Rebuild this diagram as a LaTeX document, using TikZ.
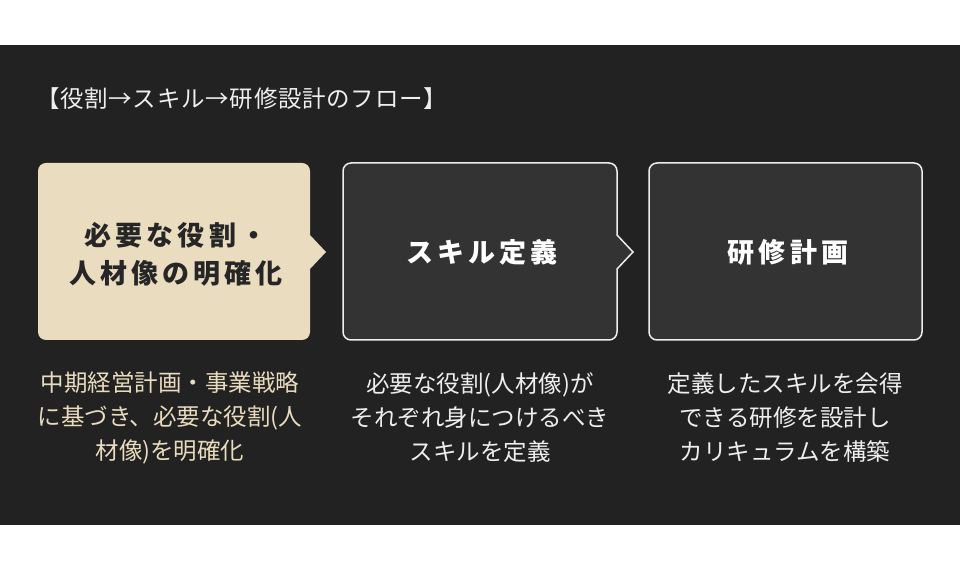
\documentclass[tikz,border=0pt]{standalone}
\usepackage{fontspec}
\newfontfamily\jp{Noto Sans CJK JP}
\newfontfamily\jpsp[LetterSpace=15]{Noto Sans CJK JP}
\newfontfamily\jptitle[LetterSpace=3]{Noto Sans CJK JP}
\definecolor{bandbg}{HTML}{222222}
\definecolor{boxdark}{HTML}{333333}
\definecolor{boxbeige}{HTML}{EADCBF}
\definecolor{beigetext}{HTML}{E8DBBE}
\definecolor{lighttext}{HTML}{EEEEEE}
\definecolor{darktext}{HTML}{262626}
\newcommand{\flowshape}[4]{% x1, x2, style, tip(1/0)
  \path[#3] (#1+8,407) -- (#2-8,407) arc[start angle=90,end angle=0,radius=8]
    \ifnum#4=1 -- (#2,335) -- (#2+16,318) -- (#2,301) \fi
    -- (#2,238) arc[start angle=0,end angle=-90,radius=8]
    -- (#1+8,230) arc[start angle=270,end angle=180,radius=8]
    -- (#1,399) arc[start angle=180,end angle=90,radius=8] -- cycle;}
\tikzset{
  beigebox/.style={fill=boxbeige},
  darkbox/.style={fill=boxdark,draw=lighttext,line width=1.5pt},
  boxlabel/.style={font=\jpsp\bfseries\fontsize{27}{38}\selectfont,align=center,inner sep=0pt},
  desc/.style={font=\jp\fontsize{23.5}{34}\selectfont,align=center,inner sep=0pt},
}
\begin{document}
\begin{tikzpicture}[x=1pt,y=1pt]
\useasboundingbox (0,0) rectangle (960,570);
\fill[white] (0,0) rectangle (960,570);
\fill[bandbg] (0,45) rectangle (960,525);
\node[anchor=base west,inner sep=0pt,text=lighttext,font=\jptitle\fontsize{23.5}{26}\selectfont] (title) at (36,462) {【役割→スキル→研修設計のフロー】};
\flowshape{38}{310}{beigebox}{1}
\flowshape{343}{617}{darkbox}{1}
\flowshape{649}{922}{darkbox}{0}
\node[boxlabel,text=darktext] (b1) at (176,316) {必要な役割・\\人材像の明確化};
\node[boxlabel,text=white] (b2) at (482,318) {スキル定義};
\node[boxlabel,text=white] (b3) at (788,318) {研修計画};
\node[desc,text=beigetext] (d1) at (170,152) {中期経営計画・事業戦略\\に基づき、必要な役割(人\\材像)を明確化};
\node[desc,text=lighttext] (d2) at (480,152) {必要な役割(人材像)が\\それぞれ身につけるべき\\スキルを定義};
\node[desc,text=lighttext] (d3) at (785,152) {定義したスキルを会得\\できる研修を設計し\\カリキュラムを構築};
\end{tikzpicture}
\end{document}
